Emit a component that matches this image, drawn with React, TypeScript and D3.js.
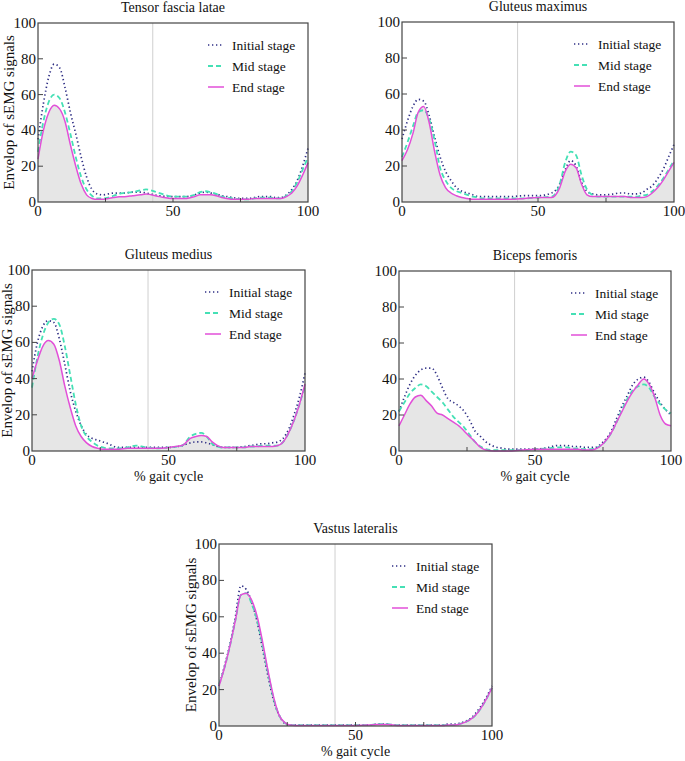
import React from "react";
import * as d3 from "d3";

const gaitX = [0,2,4,6,8,10,12,14,16,18,20,22,24,26,28,30,32,35,38,40,45,50,55,58,60,62,64,66,68,70,72,75,78,80,82,84,86,88,90,92,94,96,98,100];

const seriesNames = ["Initial stage", "Mid stage", "End stage"];
const yTicks = [0, 20, 40, 60, 80, 100];
const xTickLabels = [0, 50, 100];
const xMinorTicks = [25, 50, 75];
const toeOffLine = 42.5;

const tflInitial = [35,55,70,77,75,64,50,38,25,14, 7,4.5,4,4.5,5,5,5,5.5,5.5,5, 3.5,3,3,4,5,5.5,5,4.5,3.5,3, 2.5,2,2,2.5,3,3,3,2.5,2.5,4, 7,12,20,30];
const tflMid = [28,45,56,60,58,50,38,25,14,7, 3.5,2,2,2.5,3.5,4.5,5,5.5,6.5,7, 5,3,3,4,5.5,6,5.5,4.5,3,2.5, 2,1.5,1.5,2,2.5,2.5,2.5,2,2,3.5, 6,11,18,25];
const tflEnd = [24,40,50,54,52,45,32,20,10,4, 2,1.5,1.5,2,2.5,3,3,3.5,4,4.5, 3,2,2,3,4,4,4,3.5,2.5,2, 1.5,1.5,1.5,2,2,2,2,2,2,3, 5,9,15,22];

const gmaxInitial = [35,45,53,57,56,48,36,25,17,12, 8,6,5,4,3,3,3,3,3,3, 3.5,3.5,5,10,18,23,20,11,6,4.5, 4,4,4.5,5,5,4.5,4.5,5,7,9, 13,18,25,32];
const gmaxMid = [25,33,42,50,51,46,34,19,12,8, 6,5,4,3,2.5,2,2,2,2,2, 2,2.5,3,10,22,28,26,15,7,4, 3,3,3,3,3,3,3,3.5,4,6, 9,13,18,23];
const gmaxEnd = [23,29,38,50,53,44,28,15,8,5, 3.5,2.5,2,1.5,1.5,1.5,1.5,1.5,1.5,1.5, 2,2.5,2.5,8,17,21,19,10,4,3, 3,3,3,3,3,2.5,2.5,2.5,3,5, 8,12,17,22];

const gmedInitial = [44,60,69,72,71,62,48,33,22,14, 9,7,6,5,4,2.5,2,2,2,2, 2,2,3,4.5,5,5,4.5,3.5,2.5,2, 2,2,2.5,3,3.5,4,4,4.5,5,7, 12,20,30,43];
const gmedMid = [35,52,64,71,73,70,58,42,26,14, 8,5,3,2,1.5,1.5,1.5,2,3,2.5, 1.5,2,3,8,9.5,10,8,4,2.5,2, 2,2,2,2.5,2.5,3,3,3,3,5, 10,17,26,36];
const gmedEnd = [40,50,58,61,59,50,36,24,14,8, 4.5,2.5,1.5,1,1,1,1,1.5,1.5,1.5, 1.5,2,3,7,8,8.5,8,5,3,2, 2,2,2,2.5,2.5,2.5,2.5,2.5,3,5, 10,17,26,37];

const bfInitial = [22,30,37,42,45,46,46,42,35,29, 27,25,22,17,11,8,5,2.5,1.5,1, 1,1,2,3,3,3,2.5,2.5,2,2, 2,5,11,18,25,31,37,40,41,38, 32,27,23,20];
const bfMid = [22,27,32,35,37,36,33,30,27,23, 19,16,13,9,5,2.5,1,0.5,0.5,0.5, 0.5,1,1.5,2,2,2,1.5,1.5,1,1, 1.5,4,10,16,23,29,34,36,37,35, 30,26,23,21];
const bfEnd = [14,20,26,30,31,28,25,21,20,18, 16,14,11,8,5,2,0.5,0,0,0, 0.5,1,1,1,1,1,1,1,0.5,0.5, 1,4,10,16,22,28,33,37,40,37, 30,20,15,14];

const vlInitial = [22,33,45,60,77,75,68,57,42,27, 14,6,1.5,0.5,0.5,0.5,0.5,0.5,0.5,0.5, 0.5,0.5,0.5,1,1,1,0.5,0.5,0.5,0.5, 0.5,0.5,0.5,0.5,0.5,1,1,1.5,2.5,4, 7,11,16,22];
const vlMid = [23,32,44,58,72,73,67,58,44,29, 15,6,2,0.5,0.5,0.5,0.5,0.5,0.5,0.5, 0.5,0.5,0.5,1,1,1,0.5,0.5,0.5,0.5, 0.5,0.5,0.5,0.5,0.5,0.5,0.5,1,2,3.5, 6,10,15,21];
const vlEnd = [22,32,44,58,72,73,69,60,46,30, 16,6,2,0.5,0.3,0.3,0.3,0.3,0.3,0.3, 0.3,0.3,0.5,0.8,0.8,0.8,0.5,0.3,0.3,0.3, 0.3,0.3,0.3,0.3,0.3,0.5,0.5,1,2,3.5, 6,10,15,21];

const COLORS = ["#2f2f85", "#45e0b5", "#e24fd8"];
const DASH = ["1.3,2.7", "5,3", ""];
const WIDTH = [1.7, 1.8, 1.5];
const FONT = "Liberation Serif, DejaVu Serif, Times New Roman, serif";

type PanelSpec = {
  title: string;
  left: number; right: number; top: number; bottom: number;
  series: number[][];
  yLabelOffset: number | null;
  xLabel: boolean;
};

const panels: PanelSpec[] = [
  { title: "Tensor fascia latae", left: 38, right: 308, top: 23, bottom: 202, series: [tflInitial, tflMid, tflEnd], yLabelOffset: 24, xLabel: false },
  { title: "Gluteus maximus", left: 402, right: 674, top: 22, bottom: 202, series: [gmaxInitial, gmaxMid, gmaxEnd], yLabelOffset: null, xLabel: false },
  { title: "Gluteus medius", left: 32, right: 305, top: 270, bottom: 451, series: [gmedInitial, gmedMid, gmedEnd], yLabelOffset: 20, xLabel: true },
  { title: "Biceps femoris", left: 399, right: 671, top: 271, bottom: 451, series: [bfInitial, bfMid, bfEnd], yLabelOffset: null, xLabel: true },
  { title: "Vastus lateralis", left: 219, right: 492, top: 544, bottom: 726, series: [vlInitial, vlMid, vlEnd], yLabelOffset: 23, xLabel: true },
];

const textStyle = { fontFamily: FONT } as React.CSSProperties;

function Panel({ p }: { p: PanelSpec }) {
  const x = d3.scaleLinear().domain([0, 100]).range([p.left, p.right]);
  const y = d3.scaleLinear().domain([0, 100]).range([p.bottom, p.top]);
  const line = d3.line<number>().x((_, i) => x(gaitX[i])).y((v) => y(v)).curve(d3.curveMonotoneX);
  const area = d3.area<number>().x((_, i) => x(gaitX[i])).y0(y(0)).y1((v) => y(v)).curve(d3.curveMonotoneX);
  const cx = (p.left + p.right) / 2;
  const cy = (p.top + p.bottom) / 2;
  return (
    <g>
      <text x={cx} y={p.top - 11} textAnchor="middle" style={textStyle} fontSize={14} fill="#111">{p.title}</text>
      <path d={area(p.series[2]) || ""} fill="#e6e6e6" stroke="none" />
      <line x1={x(toeOffLine)} x2={x(toeOffLine)} y1={p.top} y2={p.bottom} stroke="#cfcfcf" strokeWidth={1} />
      {p.series.map((s, i) => (
        <path key={i} d={line(s) || ""} fill="none" stroke={COLORS[i]} strokeWidth={WIDTH[i]} strokeDasharray={DASH[i] || undefined} />
      ))}
      {yTicks.filter((t) => t > 0 && t < 100).map((t) => (
        <line key={"yt" + t} x1={p.left} x2={p.left + 5} y1={y(t)} y2={y(t)} stroke="#444" strokeWidth={1} />
      ))}
      {xMinorTicks.map((t) => (
        <line key={"xt" + t} x1={x(t)} x2={x(t)} y1={p.bottom} y2={p.bottom - 4} stroke="#444" strokeWidth={1} />
      ))}
      <rect x={p.left} y={p.top} width={p.right - p.left} height={p.bottom - p.top} fill="none" stroke="#444" strokeWidth={1.2} />
      {yTicks.map((t) => (
        <text key={"yl" + t} x={p.left - 2} y={y(t) + 5} textAnchor="end" style={textStyle} fontSize={15} fill="#111">{t}</text>
      ))}
      {xTickLabels.map((t) => (
        <text key={"xl" + t} x={x(t)} y={p.bottom + 14} textAnchor="middle" style={textStyle} fontSize={15} fill="#111">{t}</text>
      ))}
      {p.yLabelOffset !== null && (
        <text transform={`translate(${p.left - p.yLabelOffset},${cy}) rotate(-90)`} textAnchor="middle" style={textStyle} fontSize={15} fill="#111">Envelop of sEMG signals</text>
      )}
      {p.xLabel && (
        <text x={cx} y={p.bottom + 30} textAnchor="middle" style={textStyle} fontSize={14} fill="#111">% gait cycle</text>
      )}
      {seriesNames.map((name, i) => {
        const ly = p.top + 22 + i * 21;
        return (
          <g key={name}>
            <line x1={p.right - 100} x2={p.right - 84} y1={ly} y2={ly} stroke={COLORS[i]} strokeWidth={WIDTH[i]} strokeDasharray={DASH[i] || undefined} />
            <text x={p.right - 76} y={ly + 4.5} style={textStyle} fontSize={13.5} fill="#111">{name}</text>
          </g>
        );
      })}
    </g>
  );
}

export default function App() {
  return (
    <svg width={685} height={761} style={{ position: "absolute", left: 0, top: 0, background: "#fff" }}>
      <rect x={0} y={0} width={685} height={761} fill="#fff" />
      {panels.map((p) => (
        <Panel key={p.title} p={p} />
      ))}
    </svg>
  );
}
